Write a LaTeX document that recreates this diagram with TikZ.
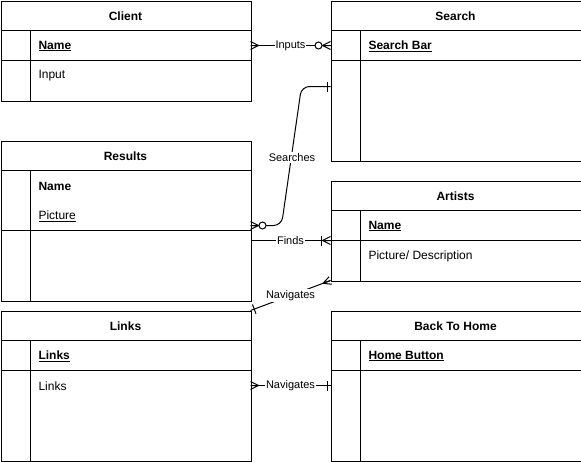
\documentclass[tikz,border=0pt]{standalone}
\usepackage{fontspec}
\setmainfont{Liberation Sans}
\usetikzlibrary{calc}
\newcommand\ermany[2]{%
  \draw ($(#1)!8pt!(#2)$) -- ($(#1)!4pt!90:(#2)$)
        ($(#1)!8pt!(#2)$) -- (#1)
        ($(#1)!8pt!(#2)$) -- ($(#1)!4pt!-90:(#2)$);}
\newcommand\erbar[3]{%
  \coordinate (tmpbar) at ($(#1)!#3!(#2)$);
  \draw ($(tmpbar)!5pt!90:(#2)$) -- ($(tmpbar)!5pt!-90:(#2)$);}
\newcommand\ercirc[3]{%
  \draw[fill=white] ($(#1)!#3!(#2)$) circle (3.5pt);}
\tikzset{
  tbl/.style={draw, anchor=north west, inner sep=0pt, minimum width=250pt},
  title/.style={font=\fontsize{12pt}{14pt}\selectfont\bfseries},
  entry/.style={anchor=west, inner sep=0pt, font=\fontsize{12pt}{14pt}\selectfont},
  rel/.style={fill=white, inner sep=1pt, font=\fontsize{11pt}{13pt}\selectfont},
}
\begin{document}
\begin{tikzpicture}[x=1pt,y=-1pt,line width=1pt]
\useasboundingbox (0,0) rectangle (581,461);
% Client
\node[tbl, minimum height=100pt] (client) at (0.5,0.5) {};
\draw (0.5,30.5) -- (250.5,30.5) (0.5,60.5) -- (250.5,60.5) (30.5,30.5) -- (30.5,100.5);
\node[title] (clientT) at (125.5,16) {Client};
\node[entry] (clientA) at (38,46) {\underline{\textbf{Name}}};
\node[entry] (clientB) at (38,76) {Input};
% Search
\node[tbl, minimum height=160pt] (search) at (330.5,0.5) {};
\draw (330.5,30.5) -- (580.5,30.5) (330.5,60.5) -- (580.5,60.5) (360.5,30.5) -- (360.5,160.5);
\node[title] (searchT) at (455.5,16) {Search};
\node[entry] (searchA) at (368,46) {\underline{\textbf{Search Bar}}};
% Results
\node[tbl, minimum height=160pt] (results) at (0.5,140.5) {};
\draw (0.5,170.5) -- (250.5,170.5) (0.5,230.5) -- (250.5,230.5) (30.5,170.5) -- (30.5,300.5);
\node[title] (resultsT) at (125.5,156) {Results};
\node[entry] (resultsA) at (38,186) {\textbf{Name}};
\node[entry] (resultsB) at (38,216) {\underline{Picture}};
% Artists
\node[tbl, minimum height=100pt] (artists) at (330.5,180.5) {};
\draw (330.5,210.5) -- (580.5,210.5) (330.5,240.5) -- (580.5,240.5) (360.5,210.5) -- (360.5,280.5);
\node[title] (artistsT) at (455.5,196) {Artists};
\node[entry] (artistsA) at (368,226) {\underline{\textbf{Name}}};
\node[entry] (artistsB) at (368,256) {Picture/ Description};
% Links
\node[tbl, minimum height=150pt] (links) at (0.5,310.5) {};
\draw (0.5,340.5) -- (250.5,340.5) (0.5,370.5) -- (250.5,370.5) (30.5,340.5) -- (30.5,460.5);
\node[title] (linksT) at (125.5,326) {Links};
\node[entry] (linksA) at (38,356) {\underline{\textbf{Links}}};
\node[entry] (linksB) at (38,386) {Links};
% Back To Home
\node[tbl, minimum height=150pt] (home) at (330.5,310.5) {};
\draw (330.5,340.5) -- (580.5,340.5) (330.5,370.5) -- (580.5,370.5) (360.5,340.5) -- (360.5,460.5);
\node[title] (homeT) at (455.5,326) {Back To Home};
\node[entry] (homeA) at (368,356) {\underline{\textbf{Home Button}}};
% connector end points
\coordinate (cI) at (250.5,45.5);
\coordinate (sI) at (330.5,45.5);
\coordinate (rS) at (250.5,225.5);
\coordinate (rS2) at (281.5,225.5);
\coordinate (sS1) at (301.5,86.5);
\coordinate (sS) at (330.5,86.5);
\coordinate (rF) at (250.5,240.5);
\coordinate (aF) at (330.5,240.5);
\coordinate (aN) at (330.5,280.5);
\coordinate (lN) at (250.5,310.5);
\coordinate (lH) at (250.5,385.5);
\coordinate (hH) at (330.5,385.5);
% Inputs
\draw (cI) -- node[rel] {Inputs} (sI);
\ermany{cI}{sI}
\ercirc{sI}{cI}{12pt}
\ermany{sI}{cI}
% Searches
\draw[rounded corners=8pt] (rS) -- (rS2) -- (sS1) -- (sS);
\node[rel] (searchesL) at (292,157.5) {Searches};
\ermany{rS}{rS2}
\ercirc{rS}{rS2}{12pt}
\erbar{sS}{sS1}{3pt}
% Finds
\draw (rF) -- node[rel] {Finds} (aF);
\ermany{aF}{rF}
\erbar{aF}{rF}{9pt}
% Navigates (diagonal)
\draw (aN) -- node[rel] {Navigates} (lN);
\ermany{aN}{lN}
\erbar{lN}{aN}{4pt}
% Navigates (bottom)
\draw (lH) -- node[rel] {Navigates} (hH);
\ermany{lH}{hH}
\erbar{hH}{lH}{3pt}
\end{tikzpicture}
\end{document}
